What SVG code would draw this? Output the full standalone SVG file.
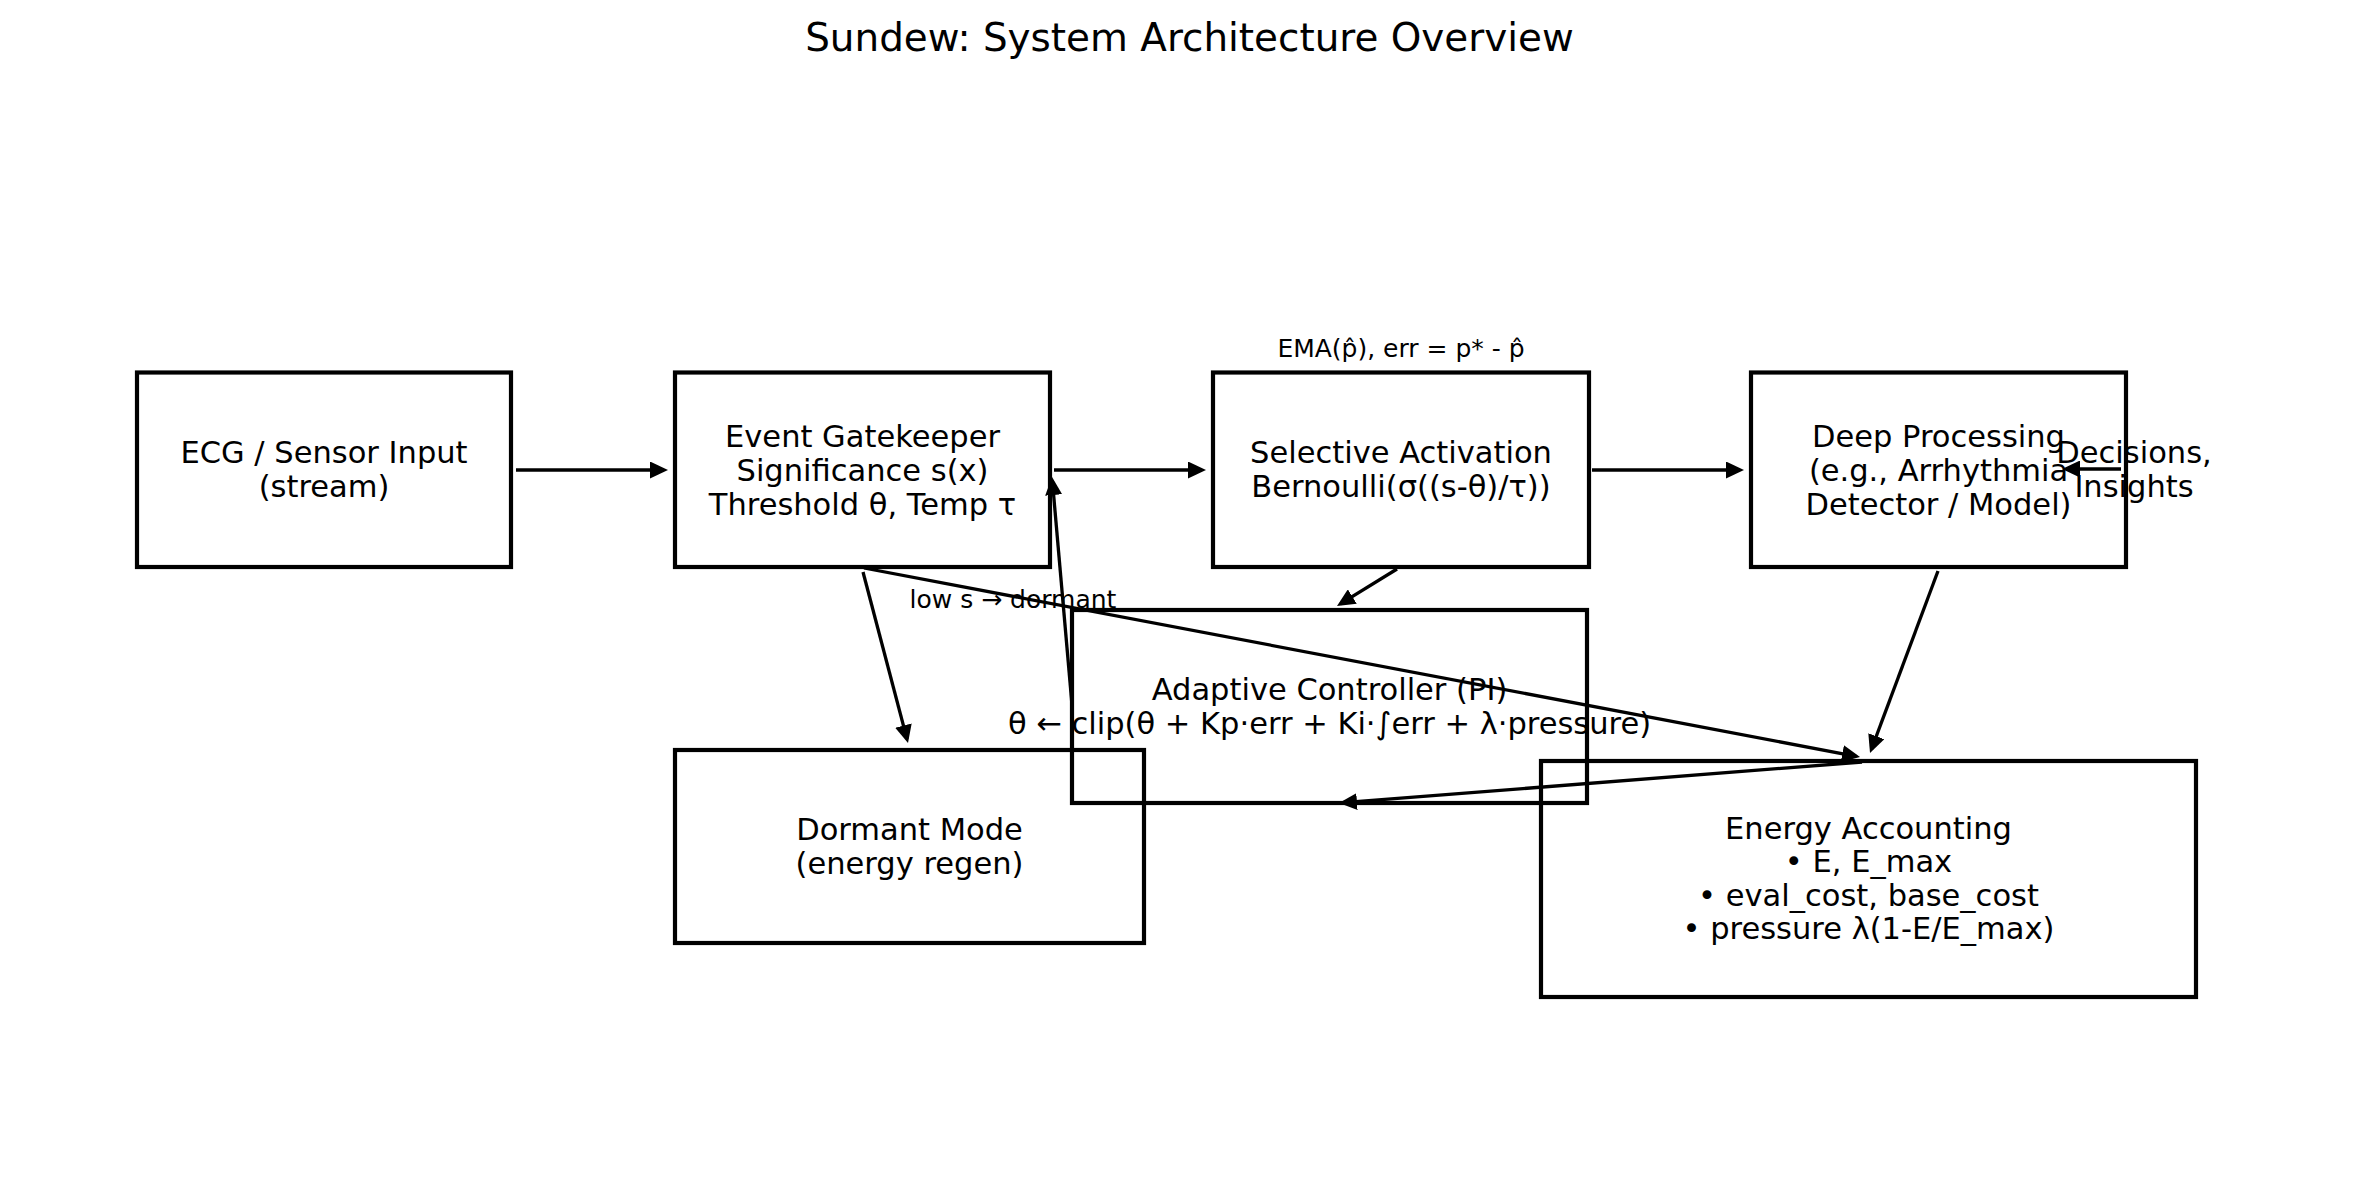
<svg xmlns="http://www.w3.org/2000/svg" width="2379" height="1179" viewBox="0 0 2379 1179">
<style>
.box{fill:none;stroke:#000;stroke-width:4.2}
.t{font-family:"DejaVu Sans",sans-serif;font-size:30.5px;fill:#000;text-anchor:middle}
.s{font-family:"DejaVu Sans",sans-serif;font-size:25px;fill:#000;text-anchor:middle}
.title{font-family:"DejaVu Sans",sans-serif;font-size:38.9px;fill:#000;text-anchor:middle}
.c line{stroke:#000;stroke-width:3.3;marker-end:url(#ah)}
</style>
<defs>
<marker id="ah" markerUnits="userSpaceOnUse" markerWidth="18" markerHeight="17" viewBox="0 0 18 17" refX="14" refY="8.5" orient="auto">
<path d="M0,0 L18,8.5 L0,17 Z" fill="#000"/>
</marker>
</defs>
<rect width="2379" height="1179" fill="#fff"/>
<text class="title" x="1189.5" y="51">Sundew: System Architecture Overview</text>

<g id="ecg">
<rect class="box" x="137" y="372.5" width="374" height="194.5"/>
<text class="t" x="324" y="462.5">ECG / Sensor Input</text>
<text class="t" x="324" y="496.5">(stream)</text>
</g>
<g id="gatekeeper">
<rect class="box" x="675" y="372.5" width="375" height="194.5"/>
<text class="t" x="862.5" y="446.5">Event Gatekeeper</text>
<text class="t" x="862.5" y="480.5">Significance s(x)</text>
<text class="t" x="862.5" y="514.5">Threshold θ, Temp τ</text>
</g>
<g id="selective">
<rect class="box" x="1213" y="372.5" width="376" height="194.5"/>
<text class="t" x="1401" y="462.5">Selective Activation</text>
<text class="t" x="1401" y="496.5">Bernoulli(σ((s-θ)/τ))</text>
</g>
<g id="deep">
<rect class="box" x="1751" y="372.5" width="375" height="194.5"/>
<text class="t" x="1938.5" y="446.5">Deep Processing</text>
<text class="t" x="1938.5" y="480.5">(e.g., Arrhythmia</text>
<text class="t" x="1938.5" y="514.5">Detector / Model)</text>
</g>
<g id="adaptive">
<rect class="box" x="1072" y="610" width="515" height="193"/>
<text class="t" x="1329.5" y="699.5">Adaptive Controller (PI)</text>
<text class="t" x="1329.5" y="733.5">θ ← clip(θ + Kp·err + Ki·∫err + λ·pressure)</text>
</g>
<g id="dormant">
<rect class="box" x="675" y="750" width="469" height="193"/>
<text class="t" x="909.5" y="840">Dormant Mode</text>
<text class="t" x="909.5" y="874">(energy regen)</text>
</g>
<g id="energy">
<rect class="box" x="1541" y="761" width="655" height="236"/>
<text class="t" x="1868.5" y="838.5">Energy Accounting</text>
<text class="t" x="1868.5" y="872">• E, E_max</text>
<text class="t" x="1868.5" y="905.5">• eval_cost, base_cost</text>
<text class="t" x="1868.5" y="939">• pressure λ(1-E/E_max)</text>
</g>
<g id="decisions">
<text class="t" x="2134" y="462.5">Decisions,</text>
<text class="t" x="2134" y="496.5">Insights</text>
</g>

<g id="connectors" class="c">
<line x1="516" y1="470" x2="664" y2="470"/>
<line x1="1054" y1="470" x2="1202" y2="470"/>
<line x1="1592" y1="470" x2="1740" y2="470"/>
<line x1="2121" y1="469" x2="2066" y2="469"/>
<line x1="863" y1="572" x2="907" y2="739.1"/>
<line x1="864" y1="568" x2="1856.1" y2="756.3"/>
<line x1="1397" y1="569" x2="1340.4" y2="603.9"/>
<line x1="1938" y1="571" x2="1871.4" y2="749.3"/>
<line x1="1862" y1="762" x2="1343" y2="802.7"/>
<line x1="1072" y1="705" x2="1052.4" y2="481"/>
</g>
<text class="s" x="1401" y="357">EMA(p̂), err = p* - p̂</text>
<text class="s" x="1013" y="608">low s → dormant</text>
</svg>
